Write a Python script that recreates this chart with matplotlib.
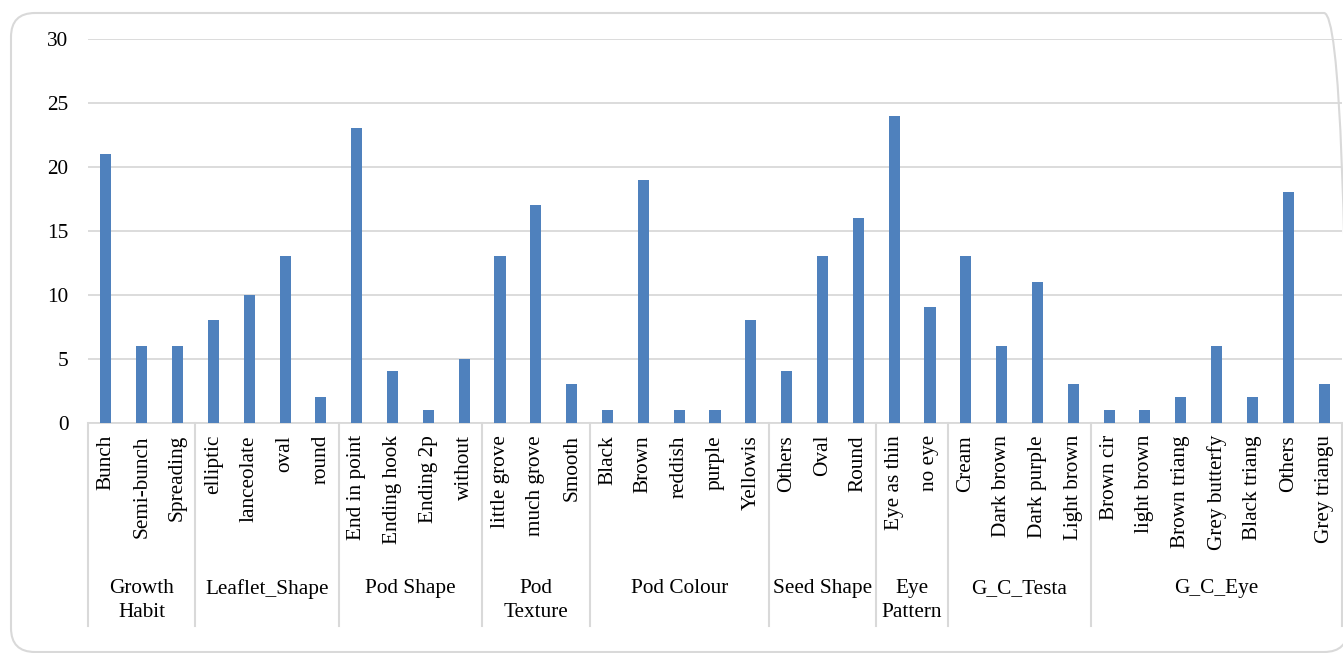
import matplotlib
matplotlib.use("Agg")
import matplotlib.pyplot as plt
from matplotlib.patches import FancyBboxPatch
from matplotlib.transforms import blended_transform_factory, IdentityTransform

# Trait groups and their categories
groups = ["Growth\nHabit", "Leaflet_Shape", "Pod Shape", "Pod\nTexture", "Pod Colour",
          "Seed Shape", "Eye\nPattern", "G_C_Testa", "G_C_Eye"]
group_items = [
    ["Bunch", "Semi-bunch", "Spreading"],
    ["elliptic", "lanceolate", "oval", "round"],
    ["End in point", "Ending hook", "Ending 2p", "without"],
    ["little grove", "much grove", "Smooth"],
    ["Black", "Brown", "reddish", "purple", "Yellowis"],
    ["Others", "Oval", "Round"],
    ["Eye as thin", "no eye"],
    ["Cream", "Dark brown", "Dark purple", "Light brown"],
    ["Brown cir", "light brown", "Brown triang", "Grey butterfy", "Black triang", "Others", "Grey triangu"],
]
group_values = [
    [21, 6, 6],
    [8, 10, 13, 2],
    [23, 4, 1, 5],
    [13, 17, 3],
    [1, 19, 1, 1, 8],
    [4, 13, 16],
    [24, 9],
    [13, 6, 11, 3],
    [1, 1, 2, 6, 2, 18, 3],
]
y_ticks = [0, 5, 10, 15, 20, 25, 30]

plt.rcParams["font.family"] = ["Liberation Serif", "DejaVu Serif"]
FS = 15.3
BAR = "#4F81BD"
GRID = "#D9D9D9"

W, H = 1343, 653
fig = plt.figure(figsize=(W / 100, H / 100), dpi=100)

# chart frame with rounded corners (pixel coordinates, origin bottom-left)
frame = FancyBboxPatch((11, H - 652), 1348 - 11, 652 - 13,
                       boxstyle="round,pad=0,rounding_size=24",
                       transform=IdentityTransform(), facecolor="none",
                       edgecolor=GRID, linewidth=1.5, zorder=-1)
fig.patches.append(frame)

x0, x1 = 88, 1342
y_top, y_zero = 39, 422.5
ax = fig.add_axes([x0 / W, 1 - y_zero / H, (x1 - x0) / W, (y_zero - y_top) / H])
ax.patch.set_alpha(0)

labels = [c for g in group_items for c in g]
values = [v for g in group_values for v in g]
xs = list(range(len(labels)))

ax.bar(xs, values, width=0.31, color=BAR, zorder=3)
ax.set_xlim(-0.5, len(labels) - 0.5)
ax.set_ylim(0, 30)
ax.set_yticks(y_ticks)
ax.yaxis.grid(True, color=GRID, linewidth=1.3)
ax.set_axisbelow(True)
for s in ["top", "right", "left"]:
    ax.spines[s].set_visible(False)
ax.spines["bottom"].set_color(GRID)
ax.spines["bottom"].set_linewidth(1.3)
ax.tick_params(axis="y", length=0, pad=14, labelsize=FS)
ax.tick_params(axis="x", length=0, pad=9)
ax.set_xticks(xs)
ax.set_xticklabels(labels, rotation=90, va="top", ha="center", fontsize=FS)

# group separators and labels below the category labels
axh = y_zero - y_top
trans = blended_transform_factory(ax.transData, ax.transAxes)
sep_bottom = -(626 - y_zero) / axh
start = 0
bounds = [start]
for g in group_items:
    start += len(g)
    bounds.append(start)
for b in bounds:
    ax.plot([b - 0.5, b - 0.5], [0, sep_bottom], transform=trans, color=GRID,
            linewidth=1.5, clip_on=False)
label_top = -(579 - y_zero) / axh
for name, a, b in zip(groups, bounds[:-1], bounds[1:]):
    ax.text((a + b - 1) / 2, label_top, name, transform=trans, ha="center",
            va="top", fontsize=FS, linespacing=1.36, multialignment="center")

fig.savefig("out.png", dpi=100)
